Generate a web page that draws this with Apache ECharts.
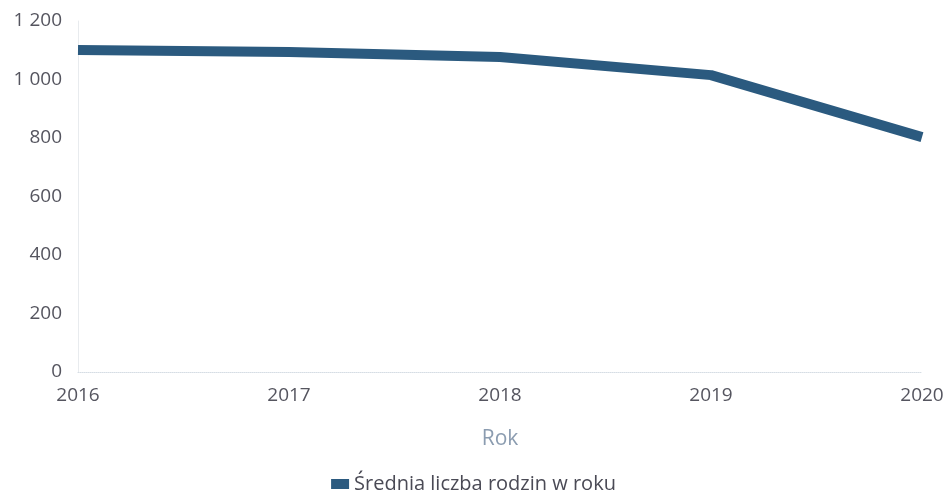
<!DOCTYPE html>
<html>
<head>
<meta charset="utf-8">
<script src="https://cdn.jsdelivr.net/npm/echarts@6/dist/echarts.min.js"></script>
<style>
  html, body { margin: 0; padding: 0; background: #fff; }
  #chart { width: 947px; height: 495px; }
</style>
</head>
<body>
<div id="chart"></div>
<script>
// Average number of families per year
const years = ['2016', '2017', '2018', '2019', '2020'];
const families = [1101, 1094, 1077, 1015, 803];
const seriesName = 'Średnia liczba rodzin w roku';
const axisTitle = 'Rok';

const fontFamily = '"Open Sans", sans-serif';
const lineColor = '#2b5a7f';

const chart = echarts.init(document.getElementById('chart'), null, { renderer: 'canvas' });

chart.setOption({
  animation: false,
  backgroundColor: '#ffffff',
  textStyle: { fontFamily: fontFamily },
  grid: { left: 78, right: 25, top: 21, bottom: 123, containLabel: false },
  legend: {
    top: 469,
    left: 'center',
    icon: 'rect',
    itemWidth: 18,
    itemHeight: 10,
    itemGap: 8,
    textStyle: { fontFamily: fontFamily, fontSize: 20, color: '#4a4a55' },
    data: [seriesName]
  },
  xAxis: {
    type: 'category',
    data: years,
    boundaryGap: false,
    name: axisTitle,
    nameLocation: 'middle',
    nameGap: 57,
    nameTextStyle: { fontFamily: fontFamily, fontSize: 21, color: '#8b9cb0' },
    axisLine: { show: true, lineStyle: { color: '#d6dde4', width: 1, type: 'dotted' } },
    axisTick: { show: false },
    axisLabel: { fontFamily: fontFamily, fontSize: 19, color: '#55555f', margin: 14 },
    splitLine: { show: false }
  },
  yAxis: {
    type: 'value',
    min: 0,
    max: 1200,
    interval: 200,
    axisLine: { show: true, lineStyle: { color: '#e8ebee', width: 1 } },
    axisTick: { show: false },
    splitLine: { show: false },
    axisLabel: {
      fontFamily: fontFamily,
      fontSize: 19,
      color: '#55555f',
      margin: 16,
      formatter: v => String(v).replace(/\B(?=(\d{3})+(?!\d))/g, ' ')
    }
  },
  series: [{
    name: seriesName,
    type: 'line',
    data: families,
    showSymbol: false,
    symbol: 'none',
    lineStyle: { color: lineColor, width: 10, cap: 'butt', join: 'round' },
    itemStyle: { color: lineColor }
  }]
});
</script>
</body>
</html>
